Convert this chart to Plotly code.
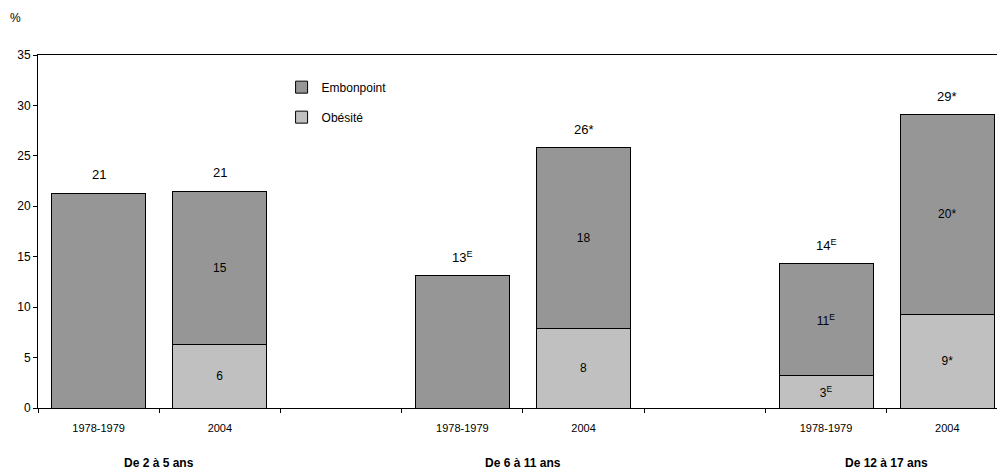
import plotly.graph_objects as go

# Data
positions = [0, 1, 3, 4, 6, 7]
bar_labels = ["1978-1979", "2004", "", "1978-1979", "2004", "", "1978-1979", "2004"]
groups = ["De 2 à 5 ans", "De 6 à 11 ans", "De 12 à 17 ans"]
obesite = [None, 6.3, None, 7.9, 3.2, 9.3]
embonpoint = [21.3, 15.2, 13.1, 17.9, 11.1, 19.8]
obesite_text = ["", "6", "", "8", "3<sup>E</sup>", "9*"]
embonpoint_text = ["", "15", "", "18", "11<sup>E</sup>", "20*"]
totals = [21.3, 21.5, 13.1, 25.8, 14.3, 29.1]
total_text = ["21", "21", "13<sup>E</sup>", "26*", "14<sup>E</sup>", "29*"]

FONT = "Liberation Sans, Arial, sans-serif"

fig = go.Figure()
fig.add_trace(go.Bar(
    x=positions, y=obesite, name="Obésité", legendgroup="b", legendrank=2,
    marker=dict(color="#C0C0C0", line=dict(color="#000000", width=1)),
    text=obesite_text, textposition="inside", insidetextanchor="middle",
    textfont=dict(color="#000000", size=12, family=FONT), textangle=0,
))
fig.add_trace(go.Bar(
    x=positions, y=embonpoint, name="Embonpoint", legendgroup="a", legendrank=1,
    marker=dict(color="#969696", line=dict(color="#000000", width=1)),
    text=embonpoint_text, textposition="inside", insidetextanchor="middle",
    textfont=dict(color="#000000", size=12, family=FONT), textangle=0,
))

for xp, t, tt in zip(positions, totals, total_text):
    fig.add_annotation(x=xp, y=t, xref="x", yref="y", text=tt, showarrow=False,
                       yanchor="bottom", yshift=9, font=dict(size=13, color="#000", family=FONT))

for gx, g in zip([0.5, 3.5, 6.5], groups):
    fig.add_annotation(x=gx, y=-0.156, xref="x", yref="paper", text="<b>" + g + "</b>",
                       showarrow=False, yanchor="middle", font=dict(size=12, color="#000", family=FONT))

fig.add_annotation(x=-0.031, y=1.104, xref="paper", yref="paper", text="%", showarrow=False,
                   xanchor="left", yanchor="middle", font=dict(size=12, color="#000", family=FONT))

fig.update_layout(
    width=997, height=476,
    margin=dict(l=38, r=0, t=55, b=68),
    barmode="stack", bargap=0.224,
    plot_bgcolor="white", paper_bgcolor="white",
    font=dict(family=FONT, size=12, color="#000"),
    legend=dict(x=0.254, y=0.95, xanchor="left", yanchor="top",
                traceorder="grouped", tracegroupgap=11,
                font=dict(size=12, family=FONT), bgcolor="rgba(0,0,0,0)",
                itemwidth=30),
    xaxis=dict(range=[-0.5, 7.41], tickmode="array", tickvals=list(range(8)),
               ticktext=bar_labels, ticks="", showgrid=False, zeroline=False,
               showline=True, linecolor="#000", linewidth=1, mirror=True,
               tickfont=dict(size=11, family=FONT), ticklabelstandoff=10,
               minor=dict(tick0=0.5, dtick=1, ticks="outside", ticklen=4,
                          tickcolor="#000", showgrid=False)),
    yaxis=dict(range=[0, 35], tickmode="linear", tick0=0, dtick=5, ticks="outside",
               ticklen=4, tickcolor="#000", showgrid=False, zeroline=False,
               showline=True, linecolor="#000", linewidth=1,
               tickfont=dict(size=12, family=FONT)),
)

fig.write_html("out.html", config={"displayModeBar": False},
               post_script="document.body.style.margin='0';document.body.style.overflow='hidden';")
